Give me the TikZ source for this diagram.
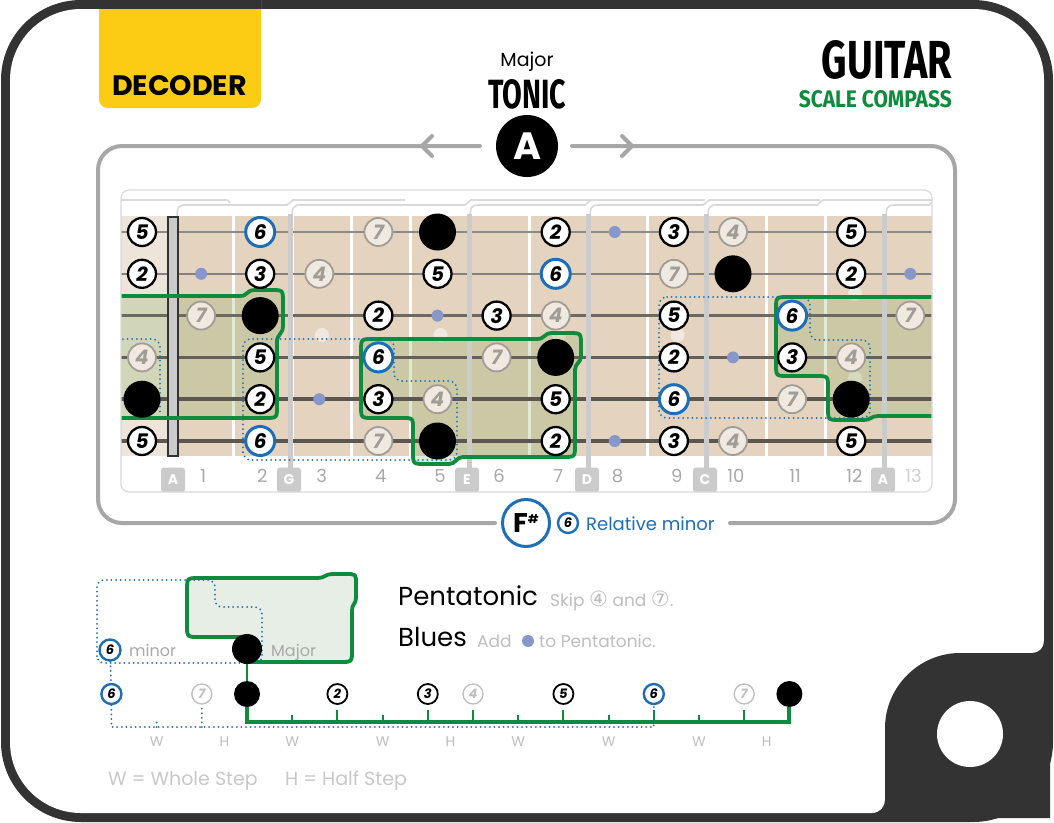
\documentclass[tikz,border=0pt]{standalone}
\usepackage{fontspec}
\setmainfont{Poppins}
\newfontfamily\condfont{Fira Sans}
\newfontfamily\dejavu{DejaVu Sans}
\usepackage{graphicx}
\definecolor{framedark}{HTML}{333333}
\definecolor{tabyellow}{HTML}{FCCC14}
\definecolor{sgreen}{HTML}{0E8B3C}
\definecolor{sblue}{HTML}{1E6EB6}
\definecolor{framegray}{HTML}{A7A7A7}
\definecolor{panelgray}{HTML}{DADADA}
\definecolor{beige}{HTML}{E4D4BF}
\definecolor{beigelight}{HTML}{EDE5D9}
\definecolor{strcol}{HTML}{5C5751}
\definecolor{notegray}{HTML}{A09C96}
\definecolor{notefill}{HTML}{EFE9E0}
\definecolor{bluesdot}{HTML}{8797C9}
\definecolor{cardgray}{HTML}{D9D9D9}
\definecolor{nutgray}{HTML}{CBCBCB}
\definecolor{labelgray}{HTML}{A9A9A9}
\definecolor{lightgray2}{HTML}{BEBEBE}
\definecolor{legendfill}{HTML}{E6EEE5}
\definecolor{gfill}{HTML}{7DAA55}
\newcommand\degfont{\bfseries\itshape\fontsize{20}{20}\selectfont}
\newcommand\sdegfont{\bfseries\itshape\fontsize{13}{13}\selectfont}
\newcommand\fnote[4]{\node[#3] (n#1x#2) at ({142+59.1*#2},{232+41.8*(#1-1)}) {#4};}
\newcommand\gpathA{(100,296) -- (240,296) .. controls (248,296) and (246,290) .. (255,290) -- (271,290) .. controls (283,290) .. (283,302) -- (283,326) .. controls (283,334) and (277,334) .. (277,342) -- (277,406) .. controls (277,418) .. (265,418) -- (100,418) -- cycle}
\newcommand\gpathB{(361,351) .. controls (361,339) .. (373,339) -- (537,339) .. controls (545,339) and (544,333) .. (552,333) -- (569,333) .. controls (581,333) .. (581,345) -- (581,356) .. controls (581,363) and (575,363) .. (575,370) -- (575,445) .. controls (575,457) .. (563,457) -- (463,457) .. controls (456,457) and (456,464) .. (449,464) -- (425,464) .. controls (413,464) .. (413,452) -- (413,428) .. controls (413,418) .. (403,418) -- (373,418) .. controls (361,418) .. (361,406) -- cycle}
\newcommand\gpathC{(940,297) -- (788,297) .. controls (776,297) .. (776,309) -- (776,364) .. controls (776,376) .. (788,376) -- (816,376) .. controls (828,376) .. (828,388) -- (828,408) .. controls (828,420) .. (840,420) -- (864,420) .. controls (871,420) and (871,416) .. (878,416) -- (940,416) -- cycle}
\newcommand\dpathA{(100,339) -- (160,339) -- (160,414)}
\newcommand\dpathB{(243,460) -- (243,339) -- (394,339) -- (394,381) -- (457,381) -- (457,460) -- cycle}
\newcommand\dpathC{(659,297) -- (810,297) -- (810,340) -- (870,340) -- (870,418) -- (659,418) -- cycle}
\newcommand\lgpath{(187,590) .. controls (187,578) .. (199,578) -- (318,578) .. controls (325,578) and (325,574) .. (332,574) -- (346,574) .. controls (356,574) .. (356,584) -- (356,598) .. controls (356,604) and (352,604) .. (352,610) -- (352,651) .. controls (352,662) .. (341,662) -- (248,662) -- (248,637) -- (198,637) .. controls (187,637) .. (187,626) -- cycle}
\newcommand\ldpath{(97,663) -- (97,580) -- (215,580) -- (215,607) -- (262,607) -- (262,663) -- cycle}
\begin{document}
\begin{tikzpicture}[x=1pt, y=-1pt,
 deg/.style={circle, draw=black, line width=2.3pt, fill=white, minimum size=28pt, inner sep=0pt, font=\degfont},
 degsix/.style={deg, draw=sblue, line width=3pt, minimum size=29pt},
 deggray/.style={deg, draw=notegray, fill=notefill, text=notegray, line width=1.8pt},
 rootdot/.style={circle, fill=black, minimum size=37pt, inner sep=0pt},
 bluesd/.style={circle, fill=bluesdot, minimum size=12pt, inner sep=0pt},
 sdeg/.style={circle, draw=black, line width=1.8pt, fill=white, minimum size=20pt, inner sep=0pt, font=\sdegfont},
 sdegsix/.style={sdeg, draw=sblue, line width=2.4pt},
 sdeggray/.style={sdeg, draw=lightgray2, text=lightgray2, line width=1.3pt},
 sroot/.style={circle, fill=black, minimum size=26pt, inner sep=0pt},
 gline/.style={draw=sgreen, line width=3.8pt, line join=round},
 dotline/.style={draw=sblue, line width=2pt, dash pattern=on 0pt off 4.6pt, line cap=round, rounded corners=8pt},
 tabbox/.style={rounded corners=3pt, fill=nutgray, text=white, minimum width=24pt, minimum height=25pt, inner sep=0pt, font=\bfseries\fontsize{14}{14}\selectfont},
 fretlbl/.style={text=labelgray, font=\fontsize{18}{18}\selectfont, anchor=base, inner sep=0pt},
 steplbl/.style={text=lightgray2, font=\fontsize{14}{14}\selectfont, anchor=base, inner sep=0pt},
 graytxt/.style={text=lightgray2, anchor=base west, inner sep=0pt},
 framelin/.style={framegray, line width=4pt, line cap=round, rounded corners=24pt},
]
\useasboundingbox (0,0) rectangle (1054,822);
% ---------- outer frame ----------
\fill[white] (0,0) rectangle (1054,822);
\fill[framedark, rounded corners=80pt] (1,0) rectangle (1053,822);
\fill[white, rounded corners=71pt] (10,9) rectangle (1044,813);
\fill[framedark] (1050,600) -- (1044,600) -- (1044,641) .. controls (1044,648) and (1039,653) .. (1032,653) -- (960,653) .. controls (919,653) and (885,687) .. (885,728) -- (885,800) .. controls (885,807) and (880,813) .. (872,813) -- (872,818) -- (1050,818) -- cycle;
\fill[white] (970,734) circle[radius=33];
% ---------- header ----------
\fill[tabyellow, rounded corners=9pt] (99,-20) rectangle (261,108);
\fill[framedark] (99,0) rectangle (261,9);
\node[anchor=base, inner sep=0pt] (decoder) at (179.5,95) {\resizebox{135pt}{20pt}{\bfseries DECODER}};
\node[anchor=base, inner sep=0pt, font=\fontsize{19}{19}\selectfont] (majorlbl) at (527,66) {Major};
\node[anchor=base, inner sep=0pt] (toniclbl) at (527,108) {\resizebox{78pt}{29pt}{\condfont\bfseries TONIC}};
\node[anchor=base east, inner sep=0pt] (guitar) at (952,78) {\resizebox{130pt}{38pt}{\condfont\bfseries GUITAR}};
\node[anchor=base east, inner sep=0pt, text=sgreen] (compass) at (952,107) {\resizebox{153pt}{17pt}{\condfont\bfseries SCALE COMPASS}};
% ---------- gray frame ----------
\draw[framelin] (480,146) -- (98,146) -- (98,523) -- (495,523);
\draw[framelin] (730,523) -- (955,523) -- (955,146) -- (572,146);
\draw[framegray, line width=4pt, line cap=round, line join=round] (432,136) -- (422,146) -- (432,156);
\draw[framegray, line width=4pt, line cap=round, line join=round] (622,136) -- (632,146) -- (622,156);
\node[circle, fill=black, minimum size=62pt, inner sep=0pt, text=white, font=\bfseries\fontsize{38}{38}\selectfont] (tonic) at (527,146) {A};
% ---------- fretboard panel ----------
\fill[white, rounded corners=8pt] (121,190) rectangle (932,492);
\begin{scope}
\clip[rounded corners=8pt] (121,190) rectangle (932,492);
\fill[beige] (121,216) rectangle (932,456);
\fill[beigelight] (121,216) rectangle (170,456);
\foreach \k in {1,...,12} \draw[white, line width=3pt] ({174+59.2*\k},216) -- ({174+59.2*\k},456);
\foreach \p in {(322,335),(440.5,335),(559,335),(677.5,335),(855,294),(855,378)} \fill[white, fill opacity=0.5] \p circle[radius=7];
\fill[gfill, fill opacity=0.24] \gpathA;
\fill[gfill, fill opacity=0.24] \gpathB;
\fill[gfill, fill opacity=0.24] \gpathC;
\foreach \s/\w/\c in {1/1.3/70, 2/1.6/75, 3/2.6/90, 4/3.0/95, 5/3.6/100, 6/4.4/100}
  \draw[strcol!\c!white, line width=\w pt] (121,{232+41.8*(\s-1)}) -- (932,{232+41.8*(\s-1)});
% position cards
\draw[cardgray, line width=1.6pt] (121,200) -- (224,200) .. controls (228,200) .. (230,203);
\foreach \xa/\xb/\xc in {177/290/405, 292/468/590, 470/588/705, 590/706/820, 708/820/932, 886/932/932}
  \draw[cardgray, line width=1.6pt] (\xa,226) .. controls (\xa,205) .. (\xa+11,205) -- (\xb-3,205) -- (\xb+3,200) -- (\xc,200);
\foreach \x in {290,469,588,706,884} \draw[nutgray, line width=5pt] (\x,214) -- (\x,470);
\draw[framedark, line width=1.4pt, fill=nutgray] (168,217) rectangle (178,456);
\draw[gline] \gpathA;
\draw[gline] \gpathB;
\draw[gline] \gpathC;
\draw[dotline] \dpathA;
\draw[dotline] \dpathB;
\draw[dotline] \dpathC;
\foreach \x/\l [count=\i] in {173/A,289/G,467/E,587/D,705/C,883/A}
  \node[tabbox] (tab\i) at (\x,480) {\l};
\end{scope}
\draw[panelgray, line width=1.2pt, rounded corners=8pt] (121,190) rectangle (932,492);
% ---------- notes ----------
\foreach \f/\t/\d in {0/deg/5, 2/degsix/6, 4/deggray/7, 5/rootdot/, 7/deg/2, 8/bluesd/, 9/deg/3, 10/deggray/4, 12/deg/5}
  {\edef\tmp{\noexpand\fnote{1}{\f}{\t}{\d}}\tmp}
\foreach \f/\t/\d in {0/deg/2, 1/bluesd/, 2/deg/3, 3/deggray/4, 5/deg/5, 7/degsix/6, 9/deggray/7, 10/rootdot/, 12/deg/2, 13/bluesd/}
  {\edef\tmp{\noexpand\fnote{2}{\f}{\t}{\d}}\tmp}
\foreach \f/\t/\d in {1/deggray/7, 2/rootdot/, 4/deg/2, 5/bluesd/, 6/deg/3, 7/deggray/4, 9/deg/5, 11/degsix/6, 13/deggray/7}
  {\edef\tmp{\noexpand\fnote{3}{\f}{\t}{\d}}\tmp}
\foreach \f/\t/\d in {0/deggray/4, 2/deg/5, 4/degsix/6, 6/deggray/7, 7/rootdot/, 9/deg/2, 10/bluesd/, 11/deg/3, 12/deggray/4}
  {\edef\tmp{\noexpand\fnote{4}{\f}{\t}{\d}}\tmp}
\foreach \f/\t/\d in {0/rootdot/, 2/deg/2, 3/bluesd/, 4/deg/3, 5/deggray/4, 7/deg/5, 9/degsix/6, 11/deggray/7, 12/rootdot/}
  {\edef\tmp{\noexpand\fnote{5}{\f}{\t}{\d}}\tmp}
\foreach \f/\t/\d in {0/deg/5, 2/degsix/6, 4/deggray/7, 5/rootdot/, 7/deg/2, 8/bluesd/, 9/deg/3, 10/deggray/4, 12/deg/5}
  {\edef\tmp{\noexpand\fnote{6}{\f}{\t}{\d}}\tmp}
\foreach \f in {1,...,12} \node[fretlbl] (fl\f) at ({144+59.2*\f},482) {\f};
\node[fretlbl, text=labelgray!55!white] (fl13) at ({144+59.2*13},482) {13};
% ---------- relative minor ----------
\node[circle, draw=sblue, line width=3pt, fill=white, minimum size=47pt, inner sep=0pt, font=\bfseries\fontsize{27}{27}\selectfont] (fsharp) at (526,523) {F\raisebox{9pt}{\fontsize{12}{12}\selectfont\#}};
\node[sdegsix] (rel6) at (568,523) {6};
\node[anchor=base west, inner sep=0pt, text=sblue, font=\fontsize{18}{18}\selectfont] (reltxt) at (586,530) {Relative minor};
% ---------- legend ----------
\fill[legendfill] \lgpath;
\draw[gline] \lgpath;
\draw[dotline, rounded corners=7pt] \ldpath;
\node[rootdot, minimum size=30pt] (lgroot) at (247,649) {};
\node[sdegsix, minimum size=21pt] (lg6) at (110,650) {6};
\node[graytxt, text=labelgray, font=\fontsize{16}{16}\selectfont] (lgminor) at (129,656) {minor};
\node[graytxt, text=labelgray, font=\fontsize{16}{16}\selectfont] (lgmajor) at (271,656) {Major};
\node[anchor=base west, inner sep=0pt, font=\fontsize{26}{26}\selectfont] (penta) at (398,605) {Pentatonic};
\node[graytxt, font=\fontsize{17}{17}\selectfont] (skip) at (550,606) {Skip {\dejavu\fontsize{21}{17}\selectfont ④} and {\dejavu\fontsize{21}{17}\selectfont ⑦}.};
\node[anchor=base west, inner sep=0pt, font=\fontsize{26}{26}\selectfont] (blues) at (398,646) {Blues};
\node[graytxt, font=\fontsize{17}{17}\selectfont] (addtxt) at (477,647) {Add};
\node[bluesd] (adddot) at (528,641) {};
\node[graytxt, font=\fontsize{17}{17}\selectfont] (topenta) at (539,647) {to Pentatonic.};
% ---------- scale row ----------
\node[sdegsix] (s6a) at ({247-45.2*3},694) {6};
\node[sdeggray] (s7a) at ({247-45.2},694) {7};
\node[sroot] (sr0) at (247,694) {};
\node[sdeg] (s2) at ({247+45.2*2},694) {2};
\node[sdeg] (s3) at ({247+45.2*4},694) {3};
\node[sdeggray] (s4) at ({247+45.2*5},694) {4};
\node[sdeg] (s5) at ({247+45.2*7},694) {5};
\node[sdegsix] (s6b) at ({247+45.2*9},694) {6};
\node[sdeggray] (s7b) at ({247+45.2*11},694) {7};
\node[sroot] (sr12) at ({247+45.2*12},694) {};
\draw[sgreen, line width=2pt] (lgroot) -- (sr0);
\draw[dotline] (lg6) -- (s6a);
\foreach \k in {1,3,6,8,10} \draw[sgreen, line width=2pt] ({247+45.2*\k},722) -- ++(0,-7);
\foreach \k in {2,4,5,7,9,11} \draw[sgreen, line width=2pt] ({247+45.2*\k},722) -- ++(0,-12);
\draw[sgreen, line width=4pt, line join=miter] (sr0.south) -- (247,722) -- ({247+45.2*12},722) -- (sr12.south);
\draw[dotline, rounded corners=0pt] (s6a.south) -- ({247-45.2*3},727) -- ({247+45.2*9},727) -- (s6b.south);
\draw[dotline, rounded corners=0pt] ({247-45.2*2},727) -- ++(0,-7);
\draw[dotline, rounded corners=0pt] ({247-45.2},727) -- (s7a.south);
\foreach \kx/\t [count=\i] in {-2/W,-0.5/H,1/W,3/W,4.5/H,6/W,8/W,10/W,11.5/H}
  \node[steplbl] (step\i) at ({247+45.2*\kx},746) {\t};
\node[graytxt, text=lightgray2!85!white, font=\fontsize{19}{19}\selectfont] (wlegend) at (108,785) {W = Whole Step};
\node[graytxt, text=lightgray2!85!white, font=\fontsize{19}{19}\selectfont] (hlegend) at (285,785) {H = Half Step};
\end{tikzpicture}
\end{document}
